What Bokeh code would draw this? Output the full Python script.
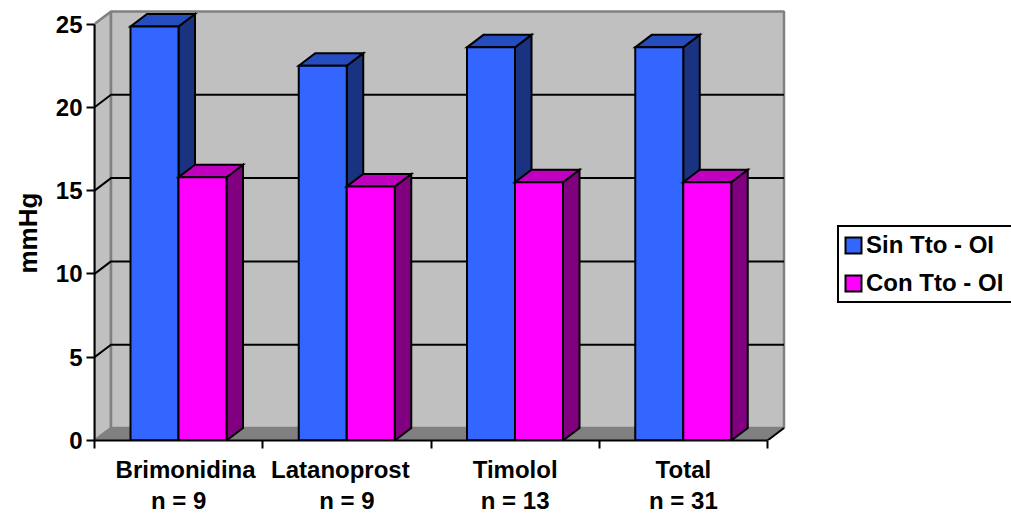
from bokeh.embed import file_html
from bokeh.models import FixedTicker, Legend, LegendItem, LinearAxis, Range1d, Title
from bokeh.plotting import figure
from bokeh.resources import INLINE

categories = ["Brimonidina", "Latanoprost", "Timolol", "Total"]
sample_sizes = ["n = 9", "n = 9", "n = 13", "n = 31"]
sin_tto = [24.85, 22.5, 23.6, 23.6]
con_tto = [15.8, 15.25, 15.5, 15.5]
y_ticks = [0, 5, 10, 15, 20, 25]

FONT = "Liberation Sans"
W, H = 1011, 516
LEFT, RIGHT_EDGE, TOP, BOTTOM = 94, 1011, 2, 439.5
PX_X, PX_Y = 168.25, 16.64          # pixels per category / per mmHg
DX, DY = 16.5 / PX_X, 12.5 / PX_Y   # oblique depth of the 3D projection
BAR_W = 48 / PX_X
GAP = 36 / PX_X
N = len(categories)
Y_MAX = y_ticks[-1]

p = figure(
    width=W, height=H, output_backend="svg", toolbar_location=None,
    x_range=Range1d(0, (RIGHT_EDGE - LEFT) / PX_X),
    y_range=Range1d(0, (BOTTOM - TOP) / PX_Y),
    min_border_left=LEFT, min_border_right=0, min_border_top=TOP,
    min_border_bottom=round(H - BOTTOM), x_axis_type=None, y_axis_type=None,
)
p.outline_line_color = None
p.grid.visible = False
p.background_fill_color = "white"

# Walls and floor of the box behind the bars
wall_line = dict(line_color="#808080", line_width=2.5)
p.patch([0, DX, DX, 0], [0, DY, Y_MAX + DY, Y_MAX], fill_color="#C0C0C0", **wall_line)
p.patch([DX, N + DX, N + DX, DX], [DY, DY, Y_MAX + DY, Y_MAX + DY], fill_color="#C0C0C0", **wall_line)
p.patch([0, N, N + DX, DX], [0, 0, DY, DY], fill_color="#808080", line_color="#808080", line_width=1)

# Gridlines run along the back wall and fold down the left wall to the axis
for t in y_ticks[1:-1]:
    p.line([0, DX, N + DX], [t, t + DY, t + DY], line_color="black", line_width=2)
p.line([N, N + DX], [0, DY], line_color="black", line_width=2)


def draw_bars(values, offset, front, top, side):
    left = [i + GAP + offset for i in range(N)]
    right = [x + BAR_W for x in left]
    bar_line = dict(line_color="black", line_width=2, line_join="miter")
    p.patches(
        [[r, r + DX, r + DX, r] for r in right],
        [[0, DY, v + DY, v] for v in values],
        fill_color=side, **bar_line,
    )
    p.patches(
        [[l, r, r + DX, l + DX] for l, r in zip(left, right)],
        [[v, v, v + DY, v + DY] for v in values],
        fill_color=top, **bar_line,
    )
    return p.quad(left=left, right=right, bottom=0, top=values, fill_color=front, **bar_line)


blue = draw_bars(sin_tto, 0, "#3366FF", "#264DBF", "#1A3380")
pink = draw_bars(con_tto, BAR_W, "#FF00FF", "#BF00BF", "#800080")

# Value axis
y_axis = LinearAxis(
    ticker=FixedTicker(ticks=y_ticks), bounds=(0, Y_MAX),
    axis_line_color="black", axis_line_width=2,
    major_tick_line_color="black", major_tick_line_width=2,
    major_tick_in=0, major_tick_out=8, minor_tick_line_color=None,
    major_label_text_font=FONT, major_label_text_font_style="bold",
    major_label_text_font_size="24px", major_label_text_color="black",
    major_label_standoff=4,
)
p.add_layout(y_axis, "left")

# Category axis: tick marks fall between groups, names sit near group centres
name_nudge = [7, -6.5, 0, 0]
name_ticks = [i + 0.5 + d / PX_X for i, d in enumerate(name_nudge)]
x_axis = LinearAxis(
    ticker=FixedTicker(ticks=name_ticks, minor_ticks=list(range(N + 1))), bounds=(0, N),
    major_label_overrides=dict(zip(name_ticks, categories)),
    axis_line_color="black", axis_line_width=2,
    major_tick_line_color=None, minor_tick_line_color="black", minor_tick_line_width=2,
    minor_tick_in=0, minor_tick_out=8, major_tick_in=0, major_tick_out=8,
    major_label_text_font=FONT, major_label_text_font_style="bold",
    major_label_text_font_size="24px", major_label_text_color="black",
    major_label_text_line_height=1.0, major_label_standoff=7,
)
p.add_layout(x_axis, "below")

# Second row under the names: sample sizes
n_ticks = [i + 0.5 for i in range(N)]
n_axis = LinearAxis(
    ticker=FixedTicker(ticks=n_ticks), bounds=(0, N),
    major_label_overrides=dict(zip(n_ticks, sample_sizes)),
    axis_line_color=None, major_tick_line_color=None, minor_tick_line_color=None,
    major_tick_in=0, major_tick_out=0,
    major_label_text_font=FONT, major_label_text_font_style="bold",
    major_label_text_font_size="24px", major_label_text_color="black",
    major_label_text_line_height=1.0, major_label_standoff=1,
)
p.add_layout(n_axis, "below")

p.add_layout(Title(
    text="mmHg", align="left", offset=167, standoff=20,
    text_font=FONT, text_font_style="bold", text_font_size="26px", text_color="black",
), "left")

legend = Legend(
    items=[LegendItem(label="Sin Tto - OI", renderers=[blue]), LegendItem(label="Con Tto - OI", renderers=[pink])],
    location=(743, 137), orientation="vertical",
    border_line_color="black", border_line_width=2, border_line_alpha=1,
    background_fill_color="white", background_fill_alpha=1,
    label_text_font=FONT, label_text_font_style="bold", label_text_font_size="24px",
    label_text_color="black", glyph_width=20, glyph_height=20, label_width=160,
    label_standoff=3, spacing=10, padding=4, margin=0,
)
p.add_layout(legend)

open("out.html", "w").write(file_html(p, INLINE))
